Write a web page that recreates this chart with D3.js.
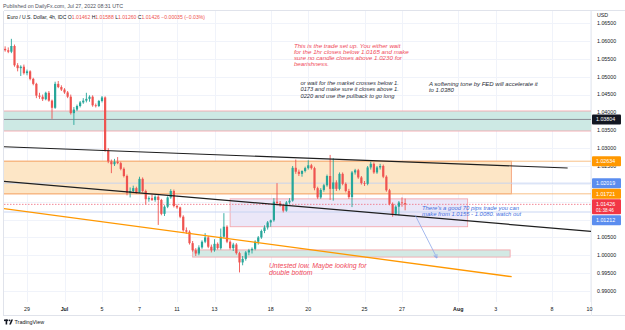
<!DOCTYPE html>
<html>
<head>
<meta charset="utf-8">
<script src="https://cdn.jsdelivr.net/npm/d3@7"></script>
<style>
  body { margin: 0; background: #fff; }
  svg { display: block; font-family: "Liberation Sans", Arial, sans-serif; }
</style>
</head>
<body>
<svg id="chart" width="625" height="330"></svg>
<script>
// EUR/USD 4h candles. bar 0 = Jun 28 00:00, 6 bars per trading day
const firstBar = -1;
const opens = [
  1.0578,
  1.0574, 1.0570, 1.0586, 1.0532, 1.0524, 1.0528,
  1.0510, 1.0515, 1.0494, 1.0480, 1.0447, 1.0444,
  1.0437, 1.0455, 1.0433, 1.0413, 1.0480, 1.0471,
  1.0464, 1.0456, 1.0444, 1.0398, 1.0408, 1.0418,
  1.0428, 1.0433, 1.0438, 1.0444, 1.0420, 1.0418,
  1.0432, 1.0442, 1.0294, 1.0263, 1.0255, 1.0262,
  1.0258, 1.0242, 1.0222, 1.0175, 1.0180, 1.0188,
  1.0177, 1.0214, 1.0180, 1.0157, 1.0160, 1.0155,
  1.0164, 1.0155, 1.0116, 1.0136, 1.0162, 1.0180,
  1.0138, 1.0134, 1.0108, 1.0070, 1.0066, 1.0034,
  1.0014, 1.0005, 1.0022, 1.0038, 1.0050, 1.0024,
  1.0014, 1.0032, 1.0020, 1.0052, 1.0080, 1.0038,
  1.0020, 1.0030, 1.0006, 0.9980, 0.9990, 1.0008,
  1.0014, 1.0018, 1.0038, 1.0050, 1.0068, 1.0078,
  1.0092, 1.0098, 1.0150, 1.0146, 1.0140, 1.0125,
  1.0148, 1.0153, 1.0245, 1.0234, 1.0228, 1.0236,
  1.0244, 1.0252, 1.0244, 1.0188, 1.0162, 1.0183,
  1.0196, 1.0222, 1.0186, 1.0204, 1.0186, 1.0228,
  1.0200, 1.0180, 1.0163, 1.0232, 1.0238, 1.0218,
  1.0202, 1.0200, 1.0246, 1.0256, 1.0232, 1.0246,
  1.0250, 1.0220, 1.0182, 1.0144, 1.0116, 1.0136,
  1.0148, 1.01462
];
const highs = [
  1.0585,
  1.0582, 1.0606, 1.0590, 1.0538, 1.0532, 1.0534,
  1.0520, 1.0518, 1.0497, 1.0483, 1.0455, 1.0450,
  1.0458, 1.0460, 1.0436, 1.0486, 1.0488, 1.0476,
  1.0468, 1.0460, 1.0450, 1.0415, 1.0422, 1.0432,
  1.0440, 1.0455, 1.0448, 1.0448, 1.0425, 1.0435,
  1.0446, 1.0445, 1.0300, 1.0268, 1.0270, 1.0275,
  1.0262, 1.0246, 1.0226, 1.0190, 1.0195, 1.0192,
  1.0220, 1.0218, 1.0184, 1.0165, 1.0170, 1.0168,
  1.0168, 1.0158, 1.0140, 1.0165, 1.0185, 1.0184,
  1.0142, 1.0136, 1.0112, 1.0078, 1.0070, 1.0040,
  1.0020, 1.0028, 1.0042, 1.0062, 1.0054, 1.0030,
  1.0045, 1.0036, 1.0075, 1.0118, 1.0084, 1.0042,
  1.0035, 1.0034, 1.0010, 0.9998, 1.0012, 1.0018,
  1.0022, 1.0042, 1.0054, 1.0072, 1.0084, 1.0096,
  1.0100, 1.0160, 1.0202, 1.0152, 1.0144, 1.0152,
  1.0160, 1.0250, 1.0268, 1.0240, 1.0238, 1.0248,
  1.0266, 1.0256, 1.0248, 1.0192, 1.0188, 1.0200,
  1.0226, 1.0281, 1.0272, 1.0210, 1.0232, 1.0232,
  1.0204, 1.0186, 1.0236, 1.0242, 1.0242, 1.0222,
  1.0208, 1.0250, 1.0262, 1.0260, 1.0250, 1.0256,
  1.0254, 1.0224, 1.0186, 1.0148, 1.0140, 1.0152,
  1.0162, 1.01588
];
const lows = [
  1.0570,
  1.0566, 1.0566, 1.0528, 1.0515, 1.0502, 1.0506,
  1.0504, 1.0490, 1.0476, 1.0440, 1.0438, 1.0432,
  1.0434, 1.0430, 1.0382, 1.0410, 1.0468, 1.0460,
  1.0452, 1.0440, 1.0394, 1.0365, 1.0404, 1.0414,
  1.0424, 1.0428, 1.0430, 1.0416, 1.0414, 1.0415,
  1.0428, 1.0290, 1.0258, 1.0230, 1.0250, 1.0255,
  1.0238, 1.0218, 1.0168, 1.0162, 1.0175, 1.0172,
  1.0174, 1.0176, 1.0142, 1.0150, 1.0152, 1.0150,
  1.0085, 1.0112, 1.0110, 1.0132, 1.0158, 1.0134,
  1.0130, 1.0104, 1.0066, 1.0060, 1.0030, 1.0010,
  0.9998, 1.0000, 1.0018, 1.0034, 1.0020, 1.0008,
  1.0010, 1.0016, 1.0016, 1.0048, 1.0034, 1.0016,
  1.0012, 1.0002, 0.9952, 0.9972, 0.9985, 1.0000,
  1.0005, 1.0014, 1.0030, 1.0046, 1.0062, 1.0072,
  1.0080, 1.0094, 1.0140, 1.0136, 1.0120, 1.0122,
  1.0144, 1.0150, 1.0228, 1.0222, 1.0220, 1.0232,
  1.0240, 1.0240, 1.0182, 1.0158, 1.0158, 1.0178,
  1.0192, 1.0155, 1.0153, 1.0180, 1.0182, 1.0196,
  1.0176, 1.0158, 1.0135, 1.0226, 1.0214, 1.0198,
  1.0194, 1.0196, 1.0240, 1.0228, 1.0228, 1.0240,
  1.0216, 1.0178, 1.0140, 1.0108, 1.0112, 1.0112,
  1.0136, 1.01260
];
const closes = [
  1.0574,
  1.0570, 1.0586, 1.0532, 1.0524, 1.0528, 1.0510,
  1.0515, 1.0494, 1.0480, 1.0447, 1.0444, 1.0437,
  1.0455, 1.0433, 1.0413, 1.0480, 1.0471, 1.0464,
  1.0456, 1.0444, 1.0398, 1.0408, 1.0418, 1.0428,
  1.0433, 1.0438, 1.0444, 1.0420, 1.0418, 1.0432,
  1.0442, 1.0294, 1.0263, 1.0255, 1.0262, 1.0258,
  1.0242, 1.0222, 1.0175, 1.0180, 1.0188, 1.0177,
  1.0214, 1.0180, 1.0157, 1.0160, 1.0155, 1.0164,
  1.0155, 1.0116, 1.0136, 1.0162, 1.0180, 1.0138,
  1.0134, 1.0108, 1.0070, 1.0066, 1.0034, 1.0014,
  1.0005, 1.0022, 1.0038, 1.0050, 1.0024, 1.0014,
  1.0032, 1.0020, 1.0052, 1.0080, 1.0038, 1.0020,
  1.0030, 1.0006, 0.9980, 0.9990, 1.0008, 1.0014,
  1.0018, 1.0038, 1.0050, 1.0068, 1.0078, 1.0092,
  1.0098, 1.0150, 1.0146, 1.0140, 1.0125, 1.0148,
  1.0153, 1.0245, 1.0234, 1.0228, 1.0236, 1.0244,
  1.0252, 1.0244, 1.0188, 1.0162, 1.0183, 1.0196,
  1.0222, 1.0186, 1.0204, 1.0186, 1.0228, 1.0200,
  1.0180, 1.0163, 1.0232, 1.0238, 1.0218, 1.0202,
  1.0200, 1.0246, 1.0256, 1.0232, 1.0246, 1.0250,
  1.0220, 1.0182, 1.0144, 1.0116, 1.0136, 1.0148,
  1.0146, 1.01426
];

const timeTicks = ["29", "Jul", "5", "7", "11", "13", "18", "20", "25", "27", "Aug", "3", "8", "10"];
const timeTickBars = [6, 18, 30, 42, 54, 66, 84, 96, 114, 126, 144, 156, 174, 186];
const priceTicks = [0.990, 0.995, 1.000, 1.005, 1.010, 1.015, 1.020, 1.025, 1.030,
                    1.035, 1.040, 1.045, 1.050, 1.055, 1.060, 1.065];

// drawings, in bar / price units
const zoneBars = [[-4, 188], [-4, 161], [71, 147], [59, 160.6]];
const zonePrices = [[1.0348, 1.0404], [1.01721, 1.02634], [1.0080, 1.0158], [0.9995, 1.0015]];
const trendBars = [[-3, 179], [-3, 186.5], [-1.4, 161.1]];
const trendPrices = [[1.03045, 1.02444], [1.02080, 1.00670], [1.01309, 0.99400]];
const levels = [1.03804, 1.02634, 1.02019, 1.01721, 1.01426, 1.01212];
const arrowBars = [130.2, 137.2];
const arrowPrices = [1.01127, 0.99923];

const notes = [
  ["This is the trade set up. You either wait", "for the 1hr closes below 1.0165 and make",
   "sure no candle closes above 1.0230 for", "bearishness."],
  ["or wait for the market crosses below 1.", "0173 and make sure it closes above 1.",
   "0220 and use the pullback to go long"],
  ["A softening tone by FED will accelerate it", "to 1.0380"],
  ["There's a good 70 pips trade you can", "make from 1.0155 - 1.0080. watch out"],
  ["Untested low. Maybe looking for", "double bottom"]
];
const noteBars = [91.4, 93.5, 134.6, 132.4, 83.4];
const notePrices = [1.0580, 1.0477, 1.0474, 1.01281, 0.99643];

const svg = d3.select("#chart");
const plot = { left: 4, right: 591, top: 11, bottom: 302 };

const x = d3.scaleLinear().domain([0, 186]).range([8.25, 589.5]);
const y = d3.scaleLinear().domain([0.99, 1.06]).range([291, 41]);
const fmt = d3.format(".5f");

svg.append("defs").append("clipPath").attr("id", "plotclip")
  .append("rect")
  .attr("x", plot.left).attr("y", plot.top)
  .attr("width", plot.right - plot.left).attr("height", plot.bottom - plot.top);

// grid
const grid = svg.append("g").attr("shape-rendering", "crispEdges");
grid.selectAll(".vg").data(timeTickBars).enter().append("line")
  .attr("x1", d => Math.round(x(d)) + 0.5).attr("x2", d => Math.round(x(d)) + 0.5)
  .attr("y1", plot.top).attr("y2", plot.bottom)
  .attr("stroke", "#f0f3fa");
grid.selectAll(".hg").data(priceTicks).enter().append("line")
  .attr("x1", plot.left).attr("x2", plot.right)
  .attr("y1", d => Math.round(y(d)) + 0.5).attr("y2", d => Math.round(y(d)) + 0.5)
  .attr("stroke", "#f0f3fa");

// borders
const border = svg.append("g").attr("shape-rendering", "crispEdges").attr("stroke", "#e0e3eb");
border.append("line").attr("x1", plot.left).attr("x2", 625).attr("y1", 10.5).attr("y2", 10.5);
border.append("line").attr("x1", plot.left).attr("x2", 625).attr("y1", 315.5).attr("y2", 315.5);
border.append("line").attr("x1", plot.left - 0.5).attr("x2", plot.left - 0.5).attr("y1", 10.5).attr("y2", 315.5);
border.append("line").attr("x1", plot.right + 0.5).attr("x2", plot.right + 0.5).attr("y1", 10.5).attr("y2", 315.5)
  .attr("stroke", "#eceef2");

const chart = svg.append("g").attr("clip-path", "url(#plotclip)");

// zones
const zoneFills = ["#cde9e4", "#fde6c6", "#ebe7f8", "#d3e9e4"];
const zoneStrokes = ["#f4a7ae", "#f5a078", "#f4a7ae", "#f4a7ae"];
zoneBars.forEach((b, i) => {
  chart.append("rect")
    .attr("x", x(b[0])).attr("width", x(b[1]) - x(b[0]))
    .attr("y", y(zonePrices[i][1])).attr("height", y(zonePrices[i][0]) - y(zonePrices[i][1]))
    .attr("fill", zoneFills[i])
    .attr("stroke", zoneStrokes[i]).attr("stroke-width", 0.9);
});

// horizontal levels
const levelColors = ["#8a8d96", "#f7b97a", "#c3d1f2", "#f7b97a", "#f2798a", "#c3d1f2"];
levels.forEach((p, i) => {
  chart.append("line")
    .attr("x1", plot.left).attr("x2", plot.right)
    .attr("y1", y(p)).attr("y2", y(p))
    .attr("stroke", levelColors[i])
    .attr("stroke-width", i === 0 ? 1 : 0.9)
    .attr("stroke-dasharray", i === 4 ? "1.5,1.5" : null);
});

// candles
const bars = opens.map((o, i) => ({ i: firstBar + i, o, h: highs[i], l: lows[i], c: closes[i] }));
const up = "#26a69a", down = "#ef5350";
const candle = chart.append("g").selectAll("g").data(bars).enter().append("g");
candle.append("line")
  .attr("x1", d => x(d.i)).attr("x2", d => x(d.i))
  .attr("y1", d => y(d.h)).attr("y2", d => y(d.l))
  .attr("stroke", d => d.c >= d.o ? up : down)
  .attr("stroke-width", 0.9);
candle.append("rect")
  .attr("x", d => x(d.i) - 1.1).attr("width", 2.2)
  .attr("y", d => y(Math.max(d.o, d.c)))
  .attr("height", d => Math.max(0.8, Math.abs(y(d.o) - y(d.c))))
  .attr("fill", d => d.c >= d.o ? up : down);

// trend lines
const trendColors = ["#1e1e1e", "#1e1e1e", "#ff9800"];
trendBars.forEach((b, i) => {
  chart.append("line")
    .attr("x1", x(b[0])).attr("x2", x(b[1]))
    .attr("y1", y(trendPrices[i][0])).attr("y2", y(trendPrices[i][1]))
    .attr("stroke", trendColors[i]).attr("stroke-width", i === 2 ? 1.3 : 1.2);
});

// arrow
const ax1 = x(arrowBars[0]), ay1 = y(arrowPrices[0]);
const ax2 = x(arrowBars[1]), ay2 = y(arrowPrices[1]);
chart.append("line")
  .attr("x1", ax1).attr("y1", ay1).attr("x2", ax2).attr("y2", ay2)
  .attr("stroke", "#8ea8ea").attr("stroke-width", 0.8);
const ang = Math.atan2(ay2 - ay1, ax2 - ax1);
const head = [[ax2, ay2],
  [ax2 - 4 * Math.cos(ang - 0.45), ay2 - 4 * Math.sin(ang - 0.45)],
  [ax2, ay2],
  [ax2 - 4 * Math.cos(ang + 0.45), ay2 - 4 * Math.sin(ang + 0.45)]];
chart.append("path").attr("d", d3.line()(head))
  .attr("fill", "none").attr("stroke", "#8ea8ea").attr("stroke-width", 0.8);

// notes
const noteColors = ["#f04a5a", "#2a2e39", "#2a2e39", "#3f6fe0", "#f04a5a"];
const noteSizes = [6.2, 5.75, 6.0, 5.9, 6.9];
const noteLead = [6.0, 6.3, 6.3, 6.0, 6.8];
notes.forEach((lines, i) => {
  const t = chart.append("text")
    .attr("x", x(noteBars[i])).attr("y", y(notePrices[i]))
    .attr("fill", noteColors[i])
    .attr("font-size", noteSizes[i]).attr("font-style", "italic");
  lines.forEach((s, k) => {
    t.append("tspan").attr("x", x(noteBars[i])).attr("dy", k === 0 ? 0 : noteLead[i]).text(s);
  });
});

// price axis badges (the last one is pushed below the live-price badge)
const badgeColors = ["#131722", "#ff9800", "#5b8def", "#ff9800", "#f23645", "#5b8def"];
const badgeY = levels.map(p => y(p));
badgeY[5] = Math.max(badgeY[5], badgeY[4] + 10 + 6);

// price axis: tick labels hidden where a badge sits on them
const axis = svg.append("g").attr("font-size", 5.3).attr("fill", "#131722");
axis.selectAll(".pl")
  .data(priceTicks.filter(p => badgeY.every(b => Math.abs(b - y(p)) > 4.5)))
  .enter().append("text")
  .attr("x", 597).attr("y", d => y(d) + 1.9)
  .text(d => fmt(d));
axis.append("text").attr("x", 597).attr("y", 17).text("USD");

levels.forEach((p, i) => {
  const h = i === 4 ? 15 : 10;
  const top = badgeY[i] - 5;
  axis.append("rect")
    .attr("x", 592).attr("y", top).attr("width", 29).attr("height", h)
    .attr("rx", 1).attr("fill", badgeColors[i]);
  axis.append("text")
    .attr("x", 596).attr("y", badgeY[i] + 1.9)
    .attr("fill", "#fff").text(fmt(p));
});
axis.append("text")
  .attr("x", 596).attr("y", badgeY[4] + 7.8)
  .attr("fill", "#fff").attr("font-size", 4.6).text("01:38:46");

// time axis
svg.append("g").attr("font-size", 5.3).attr("fill", "#131722")
  .selectAll("text").data(timeTicks).enter().append("text")
  .attr("x", (d, i) => x(timeTickBars[i]))
  .attr("y", 311)
  .attr("text-anchor", "middle")
  .attr("font-weight", d => (d === "Jul" || d === "Aug") ? 700 : 400)
  .text(d => d);

// header
svg.append("text").attr("x", 3).attr("y", 7.5)
  .attr("font-size", 5.3).attr("fill", "#50535e")
  .text("Published on DailyFx.com, Jul 27, 2022 08:31 UTC");
const legend = svg.append("text").attr("x", 7).attr("y", 19)
  .attr("font-size", 5.1).attr("fill", "#131722");
legend.append("tspan").text("Euro / U.S. Dollar, 4h, IDC  O");
legend.append("tspan").attr("fill", "#ef5350").text(fmt(opens[opens.length - 1]));
legend.append("tspan").text(" H");
legend.append("tspan").attr("fill", "#ef5350").text(fmt(highs[highs.length - 1]));
legend.append("tspan").text(" L");
legend.append("tspan").attr("fill", "#ef5350").text(fmt(lows[lows.length - 1]));
legend.append("tspan").text(" C");
legend.append("tspan").attr("fill", "#ef5350")
  .text(fmt(closes[closes.length - 1]) + "  \u22120.00035 (\u22120.03%)");

// TradingView mark
const logo = svg.append("g").attr("fill", "#131722");
logo.append("rect").attr("x", 4).attr("y", 319.5).attr("width", 4.2).attr("height", 1.6);
logo.append("rect").attr("x", 5.6).attr("y", 319.5).attr("width", 1.6).attr("height", 5);
logo.append("circle").attr("cx", 9.6).attr("cy", 320.3).attr("r", 0.9);
logo.append("path").attr("d", "M9.2,324.5 L11.3,319.5 L13,319.5 L10.9,324.5 Z");
svg.append("text").attr("x", 14.5).attr("y", 324)
  .attr("font-size", 5.4).attr("fill", "#131722").text("TradingView");
</script>
</body>
</html>
